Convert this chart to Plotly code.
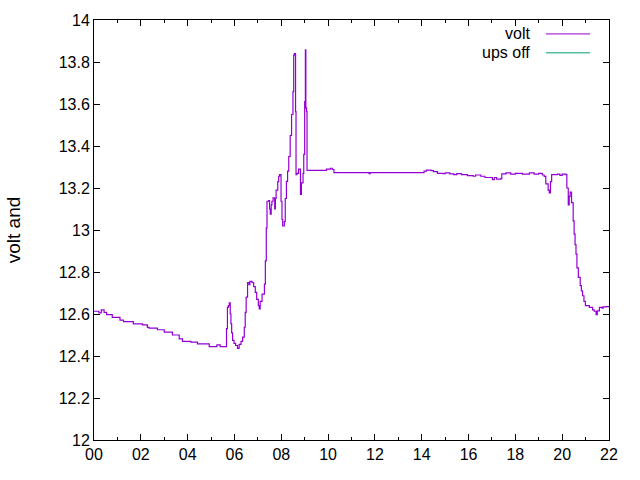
import plotly.graph_objects as go

hours = [0.00,0.21,0.31,0.43,0.54,0.78,1.11,1.26,1.68,2.07,2.28,2.35,2.71,3.00,3.35,3.64,3.78,4.14,4.42,4.92,5.25,5.39,
         5.66,5.70,5.74,5.78,5.82,5.85,5.88,5.92,5.98,6.05,6.13,6.20,6.28,6.35,6.42,6.46,6.50,6.56,6.62,6.66,6.75,6.82,6.89,6.95,7.02,7.06,7.10,7.18,7.28,7.32,7.36,7.39,7.46,7.50,7.53,7.57,7.60,7.65,7.72,7.75,7.78,7.85,7.89,7.93,7.99,8.03,8.06,8.13,8.17,8.22,8.27,8.32,8.38,8.44,8.50,8.53,8.56,8.61,8.63,8.67,8.74,8.79,8.82,8.86,8.93,8.96,9.00,9.03,9.05,9.08,9.10,
         9.93,10.10,10.18,10.25,11.75,11.80,14.10,14.20,14.40,14.50,14.67,14.90,15.00,15.20,15.37,15.50,15.70,15.95,16.20,16.30,16.52,16.70,17.02,17.10,17.20,17.38,17.42,17.60,17.80,18.00,18.30,18.60,18.80,19.00,19.15,19.23,19.30,19.40,19.45,19.50,19.55,19.80,19.90,20.00,20.16,20.20,20.26,20.30,20.34,20.40,20.47,20.51,20.55,20.59,20.63,20.69,20.77,20.82,20.87,20.93,20.99,21.16,21.30,21.37,21.45,21.50,21.59,21.70,21.75,21.88,22.00]
volts = [12.613,12.605,12.620,12.608,12.597,12.584,12.571,12.564,12.553,12.548,12.536,12.533,12.525,12.514,12.500,12.482,12.470,12.466,12.458,12.445,12.453,12.445,
         12.530,12.632,12.640,12.653,12.600,12.554,12.510,12.474,12.460,12.450,12.436,12.455,12.470,12.490,12.537,12.608,12.680,12.750,12.740,12.755,12.750,12.730,12.703,12.670,12.640,12.624,12.660,12.695,12.742,12.853,13.010,13.137,13.140,13.100,13.076,13.120,13.137,13.153,13.100,13.150,13.190,13.230,13.256,13.264,13.137,13.050,13.019,13.040,13.150,13.232,13.280,13.350,13.450,13.550,13.659,13.833,13.840,13.564,13.264,13.270,13.290,13.290,13.169,13.224,13.270,13.360,13.611,13.858,13.580,13.564,13.284,
         13.290,13.294,13.288,13.273,13.268,13.273,13.280,13.285,13.283,13.278,13.270,13.268,13.272,13.267,13.264,13.268,13.264,13.259,13.256,13.262,13.256,13.250,13.240,13.250,13.242,13.245,13.267,13.272,13.266,13.270,13.266,13.272,13.266,13.270,13.262,13.255,13.220,13.190,13.177,13.230,13.264,13.266,13.260,13.266,13.264,13.200,13.120,13.160,13.180,13.130,13.043,12.980,12.930,12.885,12.820,12.774,12.735,12.710,12.687,12.660,12.640,12.632,12.620,12.613,12.597,12.615,12.632,12.628,12.634,12.635,12.633]

ups_hours = []
ups_volts = []

x_ticks = list(range(0, 23, 2))
x_labels = ["%02d" % h for h in x_ticks]
y_ticks = [12, 12.2, 12.4, 12.6, 12.8, 13, 13.2, 13.4, 13.6, 13.8, 14]
y_labels = ["12", "12.2", "12.4", "12.6", "12.8", "13", "13.2", "13.4", "13.6", "13.8", "14"]

VOLT_C = "#9400d3"
UPS_C = "#009e73"
FONT = "Liberation Sans, Arial, sans-serif"

fig = go.Figure()
fig.add_trace(go.Scatter(x=hours, y=volts, mode="lines", line=dict(color=VOLT_C, width=1.2, shape="hv"),
                         name="volt", showlegend=False))
fig.add_trace(go.Scatter(x=ups_hours, y=ups_volts, mode="lines", line=dict(color=UPS_C, width=1),
                         name="ups off", showlegend=False))

L, R, T, B = 94, 31, 18, 40
W, H = 640, 480
pw, ph = W - L - R, H - T - B

def px(x):
    return (x - L) / pw

def py(y):
    return (H - B - y) / ph

fig.update_layout(
    width=W, height=H,
    margin=dict(l=L, r=R, t=T, b=B),
    paper_bgcolor="white", plot_bgcolor="white",
    font=dict(family=FONT, size=16, color="black"),
    showlegend=False,
    xaxis=dict(range=[0, 22], tickvals=x_ticks, ticktext=x_labels, showgrid=False, zeroline=False,
               showline=True, linecolor="black", linewidth=1, mirror="allticks",
               ticks="inside", ticklen=6, tickcolor="black",
               minor=dict(tickvals=list(range(1, 22, 2)), ticks="inside", ticklen=3, tickcolor="black")),
    yaxis=dict(range=[12, 14], tickvals=y_ticks, ticktext=y_labels, showgrid=False, zeroline=False,
               showline=True, linecolor="black", linewidth=1, mirror="allticks",
               ticks="inside", ticklen=6, tickcolor="black",
               title=dict(text="volt and", standoff=33)),
)

# gnuplot-style key
for label, color, ypix in [("volt", VOLT_C, 32), ("ups off", UPS_C, 51)]:
    fig.add_annotation(x=px(532), y=py(ypix), xref="paper", yref="paper", text=label,
                       showarrow=False, xanchor="right", yanchor="middle",
                       font=dict(family=FONT, size=16, color="black"))
    fig.add_shape(type="line", xref="paper", yref="paper", x0=px(546), x1=px(590), y0=py(ypix), y1=py(ypix),
                  line=dict(color=color, width=1))

fig.write_html("out.html")
